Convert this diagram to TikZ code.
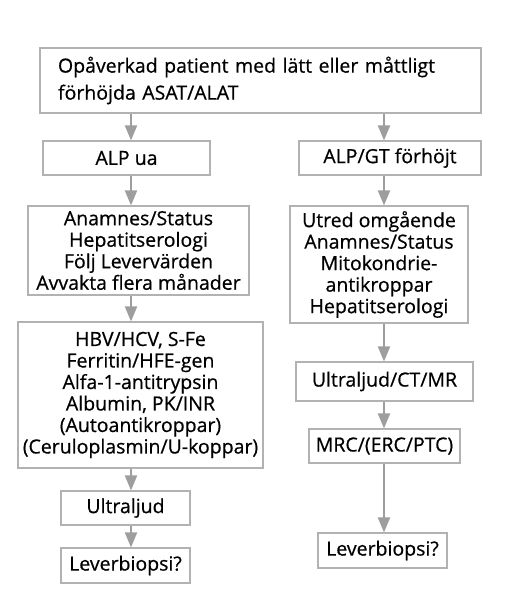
\documentclass[tikz,border=0pt]{standalone}
\usepackage{fontspec}
\setmainfont{Open Sans}[FakeBold=0.6]
\usepackage{xcolor}
\usepackage{tikz}
\usetikzlibrary{arrows.meta,positioning,calc}

\definecolor{boxgray}{gray}{0.70}
\definecolor{arrgray}{gray}{0.62}

\begin{document}
\begin{tikzpicture}[x=1pt, y=-1pt,
    box/.style={draw=boxgray, line width=1.1pt, inner sep=0pt, align=center,
        font=\fontsize{19.5}{21.5}\selectfont},
    arr/.style={draw=arrgray, line width=2pt, -{Triangle[width=12pt,length=15pt]}}]
    \useasboundingbox (0,0) rectangle (523,595);

    % Start
    \node[box, minimum width=441pt, minimum height=65pt, text width=405pt, align=left,
        font=\fontsize{19.5}{27}\selectfont] (start) at (260.5,80.5)
        {Opåverkad patient med lätt eller måttligt\\förhöjda ASAT/ALAT};

    % Left column
    \node[box, minimum width=167pt, minimum height=34pt] (alpua) at (126.5,158) {ALP ua};
    \node[box, minimum width=221pt, minimum height=89pt] (anam) at (138.5,250.5)
        {Anamnes/Status\\Hepatitserologi\\Följ Levervärden\\Avvakta flera månader};
    \node[box, minimum width=245pt, minimum height=146pt] (prov) at (140.5,395)
        {HBV/HCV, S-Fe\\Ferritin/HFE-gen\\Alfa-1-antitrypsin\\Albumin, PK/INR\\(Autoantikroppar)\\(Ceruloplasmin/U-koppar)};
    \node[box, minimum width=129pt, minimum height=34pt] (ulj) at (125.5,508) {Ultraljud};
    \node[box, minimum width=129pt, minimum height=35pt] (biopv) at (125.5,565.5) {Leverbiopsi?};

    % Right column
    \node[box, minimum width=182pt, minimum height=34pt] (alpgt) at (390,158) {ALP/GT förhöjt};
    \node[box, minimum width=178pt, minimum height=117pt] (utred) at (379,264.5)
        {Utred omgående\\Anamnes/Status\\Mitokondrie-\\antikroppar\\Hepatitserologi};
    \node[box, minimum width=177pt, minimum height=39pt] (bild) at (384.5,381.5) {Ultraljud/CT/MR};
    \node[box, minimum width=151pt, minimum height=34pt] (mrc) at (384.5,446) {MRC/(ERC/PTC)};
    \node[box, minimum width=129pt, minimum height=35pt] (biopg) at (382.5,550.5) {Leverbiopsi?};

    % Arrow columns
    \coordinate (lcol) at (131,0);
    \coordinate (rcol) at (384,0);

    \draw[arr] (start.south -| lcol) -- (alpua.north -| lcol);
    \draw[arr] (alpua.south -| lcol) -- (anam.north -| lcol);
    \draw[arr] (anam.south -| lcol) -- (prov.north -| lcol);
    \draw[arr] (prov.south -| lcol) -- (ulj.north -| lcol);
    \draw[arr] (ulj.south -| lcol) -- (biopv.north -| lcol);

    \draw[arr] (start.south -| rcol) -- (alpgt.north -| rcol);
    \draw[arr] (alpgt.south -| rcol) -- (utred.north -| rcol);
    \draw[arr] (utred.south -| rcol) -- (bild.north -| rcol);
    \draw[arr] (bild.south -| rcol) -- (mrc.north -| rcol);
    \draw[arr] (mrc.south -| rcol) -- (biopg.north -| rcol);
\end{tikzpicture}
\end{document}
